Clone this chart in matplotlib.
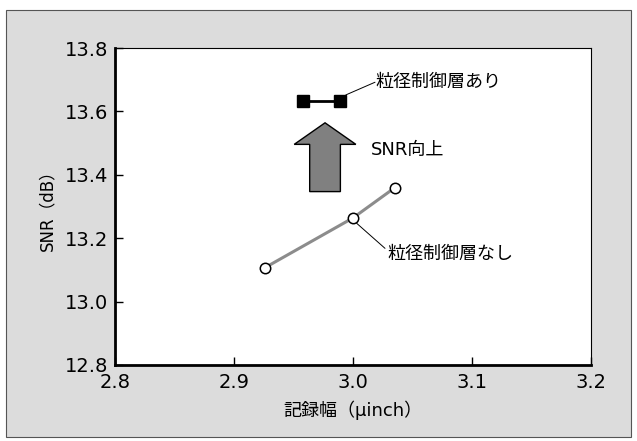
import matplotlib
matplotlib.use("Agg")
import matplotlib.pyplot as plt
from matplotlib.patches import Rectangle, Polygon

plt.rcParams['font.family'] = ['DejaVu Sans', 'Noto Sans CJK JP']

# data
x_without = [2.926, 3.000, 3.035]
y_without = [13.107, 13.264, 13.359]
x_with = [2.958, 2.989]
y_with = [13.634, 13.634]
label_with = "粒径制御層あり"
label_without = "粒径制御層なし"
label_arrow = "SNR向上"
xticks = [2.8, 2.9, 3.0, 3.1, 3.2]
yticks = [12.8, 13.0, 13.2, 13.4, 13.6, 13.8]
xlabel = "記録幅（μinch）"
ylabel = "SNR（dB）"

fig = plt.figure(figsize=(6.37, 4.41), dpi=100)
fig.patch.set_facecolor('white')
bg = Rectangle((6/637, 1-437/441), 625/637, 427/441,
               transform=fig.transFigure, facecolor='#dcdcdc',
               edgecolor='#555555', lw=0.8, zorder=-10)
fig.add_artist(bg)

ax = fig.add_axes([115/637, 1-365/441, 476/637, 317/441])
ax.set_zorder(5)
ax.set_facecolor('white')
ax.set_xlim(2.8, 3.2)
ax.set_ylim(12.8, 13.8)
ax.set_xticks(xticks)
ax.set_yticks(yticks)
ax.set_xticklabels([f"{v:.1f}" for v in xticks])
ax.set_yticklabels([f"{v:.1f}" for v in yticks])
ax.tick_params(direction='in', length=6, width=1.0, labelsize=14, colors='black')
ax.tick_params(axis='x', pad=6)
ax.tick_params(axis='y', pad=5)
for s in ['left', 'bottom']:
    ax.spines[s].set_linewidth(2.0)
for s in ['top', 'right']:
    ax.spines[s].set_linewidth(0.8)

ax.set_xlabel(xlabel, fontsize=13, labelpad=6)
ax.set_ylabel(ylabel, fontsize=12, labelpad=6)

# series without
ax.plot(x_without, y_without, color='#8c8c8c', lw=2.2, zorder=2)
ax.plot(x_without, y_without, ls='none', marker='o', ms=7.5, mfc='white',
        mec='black', mew=1.1, zorder=3)
# series with
ax.plot(x_with, y_with, color='black', lw=2.0, marker='s', ms=8, mfc='black',
        mec='black', zorder=3)

# arrow
tip_y, head_y, base_y = 13.564, 13.496, 13.347
hw, sw = 0.0259, 0.0129
cx = 2.9765
arrow = Polygon([(cx, tip_y), (cx + hw, head_y), (cx + sw, head_y), (cx + sw, base_y),
                 (cx - sw, base_y), (cx - sw, head_y), (cx - hw, head_y)],
                closed=True, facecolor='#808080', edgecolor='black', lw=1.0, zorder=2)
ax.add_patch(arrow)

ax.text(3.0148, 13.478, label_arrow, fontsize=13, va='center', ha='left')

# labels with leader lines
ax.annotate('', xy=(2.994, 13.652), xytext=(3.0185, 13.692),
            arrowprops=dict(arrowstyle='-', color='black', lw=0.7, shrinkA=0, shrinkB=0))
ax.text(3.0188, 13.694, label_with, fontsize=13, va='center', ha='left')

ax.annotate('', xy=(3.0031, 13.247), xytext=(3.0269, 13.168),
            arrowprops=dict(arrowstyle='-', color='black', lw=0.7, shrinkA=0, shrinkB=0))
ax.text(3.029, 13.151, label_without, fontsize=13, va='center', ha='left')

fig.savefig("out.png", dpi=100)
